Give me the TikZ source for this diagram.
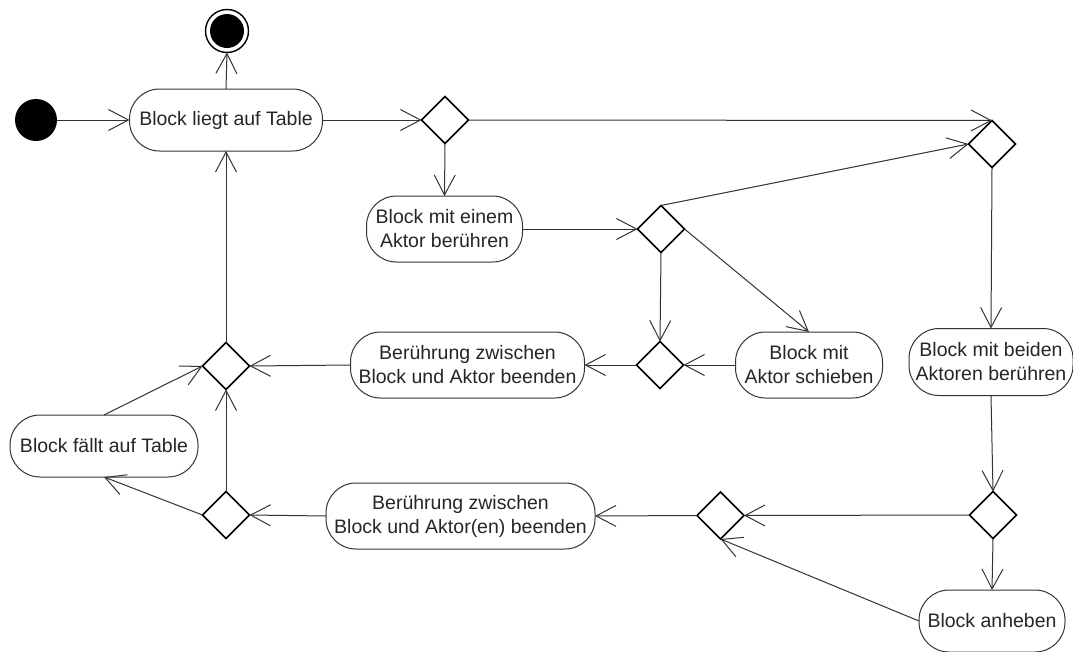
\documentclass[tikz,border=0pt]{standalone}
\usepackage{fontspec}
\setmainfont{Liberation Sans}
\usetikzlibrary{shapes.geometric,arrows.meta}
\definecolor{txt}{HTML}{262626}
\definecolor{edge}{HTML}{333333}
\tikzset{
  act/.style={rectangle, draw=edge, line width=1pt, rounded corners=30pt, align=center,
    font=\fontsize{19.5}{24}\selectfont, text=txt, inner sep=0pt, outer sep=0pt},
  dec/.style={diamond, draw=black, line width=1.6pt, minimum width=47pt, minimum height=47pt,
    inner sep=0pt, outer sep=0pt},
  conn/.style={draw=edge, line width=1pt, -{Straight Barb[length=20pt,width=21pt,line width=1pt]}},
  startnode/.style={circle, fill=black, minimum size=42pt, inner sep=0pt, outer sep=0pt},
  endnode/.style={circle, draw=black, line width=1.4pt, minimum size=43pt, inner sep=0pt, outer sep=0pt}
}
\begin{document}
\begin{tikzpicture}[x=1pt,y=-1pt]
\useasboundingbox[fill=white] (0,0) rectangle (1073,651);
% nodes
\node[startnode] (start) at (36,120) {};
\node[endnode] (end) at (227,31) {};
\fill[black] (end.center) circle (17pt);
\node[act, minimum width=193pt, minimum height=62pt] (liegt) at (226,120) {Block liegt auf Table};
\node[dec] (d1) at (445,120) {};
\node[dec] (d2) at (992,144) {};
\node[act, minimum width=156pt, minimum height=66pt] (einem) at (444.5,229) {Block mit einem\\Aktor berühren};
\node[dec] (d3) at (661,229) {};
\node[dec] (d4) at (660,365) {};
\node[act, minimum width=147pt, minimum height=66pt] (schieben) at (809,365) {Block mit\\Aktor schieben};
\node[act, minimum width=164pt, minimum height=67pt] (beiden) at (991,362) {Block mit beiden\\Aktoren berühren};
\node[act, minimum width=234pt, minimum height=66pt] (ber1) at (467.5,365) {Berührung zwischen\\Block und Aktor beenden};
\node[dec] (d5) at (226,366) {};
\node[act, minimum width=188pt, minimum height=62pt] (faellt) at (104,446) {Block fällt auf Table};
\node[dec] (d6) at (226,515) {};
\node[act, minimum width=269pt, minimum height=66pt] (ber2) at (460.5,516) {Berührung zwischen\\Block und Aktor(en) beenden};
\node[dec] (d7) at (720.5,515.5) {};
\node[dec] (d8) at (993,515) {};
\node[act, minimum width=146pt, minimum height=62pt] (anheben) at (992,621) {Block anheben};
% connectors
\draw[conn] (start.east) -- (liegt.west);
\draw[conn] (liegt.north) -- (end.south);
\draw[conn] (liegt.east) -- (d1.west);
\draw[conn] (d1.east) -- (d2.north);
\draw[conn] (d1.south) -- (einem.north);
\draw[conn] (einem.east) -- (d3.west);
\draw[conn] (d3.north) -- (d2.west);
\draw[conn] (d3.east) -- (schieben.north);
\draw[conn] (d3.south) -- (d4.north);
\draw[conn] (schieben.west) -- (d4.east);
\draw[conn] (d4.west) -- (ber1.east);
\draw[conn] (ber1.west) -- (d5.east);
\draw[conn] (d5.north) -- (liegt.south);
\draw[conn] (faellt.north) -- (d5.west);
\draw[conn] (d6.north) -- (d5.south);
\draw[conn] (d6.west) -- (faellt.south);
\draw[conn] (ber2.west) -- (d6.east);
\draw[conn] (d7.west) -- (ber2.east);
\draw[conn] (d8.west) -- (d7.east);
\draw[conn] (anheben.west) -- (d7.south);
\draw[conn] (d2.south) -- (beiden.north);
\draw[conn] (beiden.south) -- (d8.north);
\draw[conn] (d8.south) -- (anheben.north);
\end{tikzpicture}
\end{document}
